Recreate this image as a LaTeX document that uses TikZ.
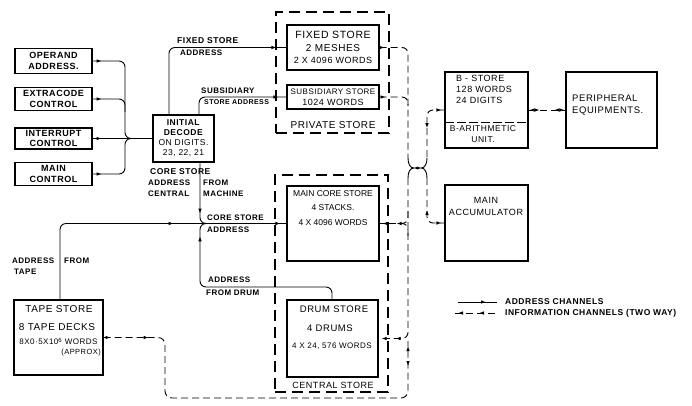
\documentclass[tikz,border=0pt]{standalone}
\usepackage{fontspec}
\setmainfont{Liberation Sans}[LetterSpace=6]
\usetikzlibrary{arrows.meta,decorations.markings,calc}
\tikzset{
  >={Latex[length=5pt,width=3.6pt]},
  box/.style={draw, line width=1.1pt, inner sep=0pt, align=center},
  grp/.style={draw, line width=1.2pt, dash pattern=on 11pt off 6pt, inner sep=0pt},
  addr/.style={line width=0.9pt},
  info/.style={line width=0.9pt, dash pattern=on 7pt off 4pt},
  fm/.style={decoration={markings,mark=at position #1 with {\arrow{>}}},postaction={decorate}},
  txt/.style={inner sep=0pt, align=center},
  lbl/.style={inner sep=0pt, anchor=west, font=\bfseries\fontsize{8}{9}\selectfont},
  bt/.style={font=\bfseries\fontsize{9}{10.5}\selectfont},
}
\begin{document}
\begin{tikzpicture}[x=1pt,y=-1pt]
\useasboundingbox (0,0) rectangle (692,405);

% ---------- control boxes ----------
\node[box, bt, minimum width=77pt, minimum height=25pt] (op) at (53.5,61) {OPERAND\\ADDRESS.};
\node[box, bt, minimum width=77pt, minimum height=23pt] (ext) at (53.5,99) {EXTRACODE\\CONTROL};
\node[box, bt, minimum width=77pt, minimum height=21pt, font=\bfseries\fontsize{9}{9.5}\selectfont] (int) at (53.5,138.5) {INTERRUPT\\CONTROL};
\node[box, bt, minimum width=77pt, minimum height=23pt] (mainc) at (53.5,174) {MAIN\\CONTROL};

\node[box, minimum width=61pt, minimum height=47pt, font=\fontsize{8.5}{10}\selectfont] (dec) at (183.5,138.5) {\textbf{INITIAL}\\\textbf{DECODE}\\ON DIGITS.\\23, 22, 21};

% ---------- private store ----------
\node[grp, minimum width=113pt, minimum height=121pt] (priv) at (332.5,72.5) {};
\node[box, minimum width=92pt, minimum height=45pt, font=\fontsize{9}{12.5}\selectfont] (fixed) at (333,47.5) {{\fontsize{10.5}{12.5}\selectfont FIXED STORE}\\{\fontsize{10}{12.5}\selectfont 2 MESHES}\\2 X 4096 WORDS};
\node[box, minimum width=92pt, minimum height=24pt, font=\fontsize{8}{10.5}\selectfont] (subs) at (333,97) {SUBSIDIARY STORE\\{\fontsize{9}{10.5}\selectfont 1024 WORDS}};
\node[txt, font=\fontsize{10}{11}\selectfont] (privt) at (333,125) {PRIVATE STORE};

% ---------- central store ----------
\node[grp, minimum width=113pt, minimum height=217pt] (cent) at (331.5,283.5) {};
\node[box, minimum width=92pt, minimum height=75pt] (core) at (333,223.5) {};
\node[txt, font=\fontsize{8.5}{14.5}\selectfont\addfontfeatures{LetterSpace=0}] (coret) at (333,208) {MAIN CORE STORE\\4 STACKS.\\4 X 4096 WORDS};
\node[box, minimum width=91pt, minimum height=77pt] (drum) at (332.5,338.5) {};
\node[txt, font=\fontsize{9.5}{11}\selectfont] (drum1) at (334,309.5) {DRUM STORE};
\node[txt, font=\fontsize{9.5}{11}\selectfont] (drum2) at (330,328.5) {4 DRUMS};
\node[txt, font=\fontsize{8}{10}\selectfont] (drum3) at (332,346) {4 X 24, 576 WORDS};
\node[txt, font=\fontsize{9}{11}\selectfont] (centt) at (333,385) {CENTRAL STORE};

% ---------- right side ----------
\node[box, minimum width=83pt, minimum height=76pt] (bst) at (486.5,110) {};
\coordinate (bdl) at (445,122); \coordinate (bdr) at (528,122);
\draw[line width=0.8pt, dash pattern=on 9pt off 3pt] (bdl) -- (bdr);
\node[txt, anchor=west, align=left, font=\fontsize{9}{11}\selectfont] (bstt) at (456,89) {B - STORE\\128 WORDS\\24 DIGITS};
\node[txt, font=\fontsize{8.5}{11}\selectfont] (bart) at (483,134.5) {B-ARITHMETIC\\UNIT.};

\node[box, minimum width=91pt, minimum height=76pt] (per) at (611.5,110) {};
\node[txt, anchor=west, align=left, font=\fontsize{9.5}{11.5}\selectfont] (pert) at (572,105) {PERIPHERAL\\EQUIPMENTS.};

\node[box, minimum width=83pt, minimum height=76pt] (acc) at (486.5,223) {};
\node[txt, font=\fontsize{9}{12}\selectfont] (acct) at (486,206) {MAIN\\ACCUMULATOR};

% ---------- tape store ----------
\node[box, minimum width=89pt, minimum height=75pt] (tape) at (58.5,337.5) {};
\node[txt, font=\fontsize{10}{11}\selectfont] (tape1) at (59,309.5) {TAPE STORE};
\node[txt, font=\fontsize{10}{11}\selectfont] (tape2) at (57,327.5) {8 TAPE DECKS};
\node[txt, font=\fontsize{8}{10}\selectfont] (tape3) at (58.5,341.5) {8X0·5X10\textsuperscript{6} WORDS};
\node[txt, anchor=east, font=\fontsize{7.5}{9}\selectfont] (tape4) at (101,353) {(APPROX)};

% ---------- helper coordinates ----------
\coordinate (lb) at (125,0);
\coordinate (fx) at (169,0);
\coordinate (sx) at (199,0);
\coordinate (cx) at (200,0);
\coordinate (dx) at (332,0);
\coordinate (dy) at (0,287);
\coordinate (tx) at (60,0);
\coordinate (tl) at (165,0);
\coordinate (ty) at (0,398);
\coordinate (L) at (408,0);
\coordinate (R) at (427,0);

% ---------- address channels ----------
\draw[addr, rounded corners=6pt, fm=9pt] (op.east) -- (op.east -| lb) -- (lb |- dec.west) -- (dec.west);
\draw[addr, rounded corners=6pt, fm=9pt] (ext.east) -- (ext.east -| lb) -- (125,112);
\draw[addr, fm=9pt] (int.east) -- (dec.west);
\draw[addr, rounded corners=6pt, fm=9pt] (mainc.east) -- (mainc.east -| lb) -- (lb |- dec.west) -- (dec.west);

\draw[addr, rounded corners=6pt, fm=-10pt] (fx |- dec.north) |- (fixed.west);
\draw[addr, rounded corners=6pt, fm=-8pt] (sx |- dec.north) |- (subs.west);
\draw[addr, rounded corners=6pt, fm=51pt] (cx |- dec.south) |- (core.west);
\draw[addr, rounded corners=6pt, fm=190pt] (dx |- drum.north) -- (dx |- dy) -- (cx |- dy) -- (cx |- core.west) -- (core.west);
\draw[addr, rounded corners=6pt, decoration={markings, mark=at position 187pt with {\arrow{>}}, mark=at position -6pt with {\arrow{>}}}, postaction={decorate}] (tx |- tape.north) |- (core.west);

% labels
\node[lbl, font=\bfseries\fontsize{8.5}{9}\selectfont] (l1) at (177,41) {FIXED STORE};
\node[lbl] (l2) at (180,52.5) {ADDRESS};
\node[lbl] (l3) at (201,90.5) {SUBSIDIARY};
\node[lbl, font=\bfseries\fontsize{7}{8}\selectfont] (l4) at (204,102.5) {STORE ADDRESS};
\node[lbl, font=\bfseries\fontsize{8.5}{9}\selectfont] (l5) at (150,171.5) {CORE STORE};
\node[lbl] (l6) at (148,182.5) {ADDRESS};
\node[lbl] (l7) at (203,182.5) {FROM};
\node[lbl] (l8) at (148,193.5) {CENTRAL};
\node[lbl] (l9) at (203,193.5) {MACHINE};
\node[lbl] (l10) at (207,217.5) {CORE STORE};
\node[lbl] (l11) at (207,229.5) {ADDRESS};
\node[lbl] (l12) at (208,280) {ADDRESS};
\node[lbl] (l13) at (206,292.5) {FROM DRUM};
\node[lbl] (l14) at (12,260.5) {ADDRESS};
\node[lbl] (l15) at (64,260.5) {FROM};
\node[lbl] (l16) at (14,271.5) {TAPE};

% ---------- information channels ----------
\draw[info, rounded corners=6pt, fm=5pt] (fixed.east) -- (L |- fixed.east) -- (408,158);
\draw[addr] (408,158) .. controls (408,164) and (410,168) .. (414,168) .. controls (410,168) and (408,172) .. (408,178);
\draw[info, rounded corners=6pt, fm=6pt] (subs.east) -- (L |- subs.east) -- (408,106);
\draw[info, rounded corners=6pt, decoration={markings, mark=at position -3pt with {\arrow{>}}, mark=at position -17pt with {\arrow{>}}}, postaction={decorate}] (408,211) -- (L |- core.east) -- (core.east);
\draw[info, rounded corners=6pt] (408,236) -- (L |- core.east) -- (400,223.5);
\draw[info, rounded corners=6pt, decoration={markings, mark=at position -3pt with {\arrow{>}}, mark=at position -17pt with {\arrow{>}}}, postaction={decorate}] (408,178) -- (L |- drum.east) -- (drum.east);
\draw[info, rounded corners=7pt, decoration={markings, mark=at position 7pt with {\arrow{>}}, mark=at position 45pt with {\arrow{>}}, mark=at position -25pt with {\arrowreversed{>}}, mark=at position -5pt with {\arrow{>}}}, postaction={decorate}] (tape.east) -- (tl |- tape.east) -- (tl |- ty) -- (L |- ty) -- (408,341);

\draw[info, rounded corners=6pt, decoration={markings, mark=at position 3pt with {\arrowreversed{>}}, mark=at position 33pt with {\arrow{>}}}, postaction={decorate}] (bst.west) -- (R |- bst.west) -- (427,158);
\draw[addr] (427,158) .. controls (427,164) and (425,168) .. (421,168) .. controls (425,168) and (427,172) .. (427,178);
\draw[info, rounded corners=6pt, decoration={markings, mark=at position 32pt with {\arrowreversed{>}}, mark=at position -3pt with {\arrow{>}}}, postaction={decorate}] (427,178) -- (R |- acc.west) -- (acc.west);
\draw[line width=0.8pt, {Latex[length=3.5pt,width=3pt]}-{Latex[length=3.5pt,width=3pt]}] (414,168) -- (421,168);

\draw[info, decoration={markings, mark=at position 1pt with {\arrowreversed{>}}, mark=at position 11pt with {\arrow{>}}, mark=at position -11pt with {\arrowreversed{>}}, mark=at position -1pt with {\arrow{>}}}, postaction={decorate}] (bst.east) -- (per.west);

% ---------- legend ----------
\coordinate (la) at (458,302); \coordinate (lbb) at (497,302);
\draw[addr, fm=28pt] (la) -- (lbb);
\node[lbl, font=\bfseries\fontsize{8.5}{10}\selectfont] (leg1) at (505,302) {ADDRESS CHANNELS};
\coordinate (lc) at (455,313); \coordinate (ld) at (497,313);
\draw[info, decoration={markings, mark=at position 3pt with {\arrowreversed{>}}, mark=at position 24pt with {\arrowreversed{>}}}, postaction={decorate}] (lc) -- (ld);
\node[lbl, font=\bfseries\fontsize{8.5}{10}\selectfont] (leg2) at (505,313) {INFORMATION CHANNELS (TWO WAY)};
\end{tikzpicture}
\end{document}
